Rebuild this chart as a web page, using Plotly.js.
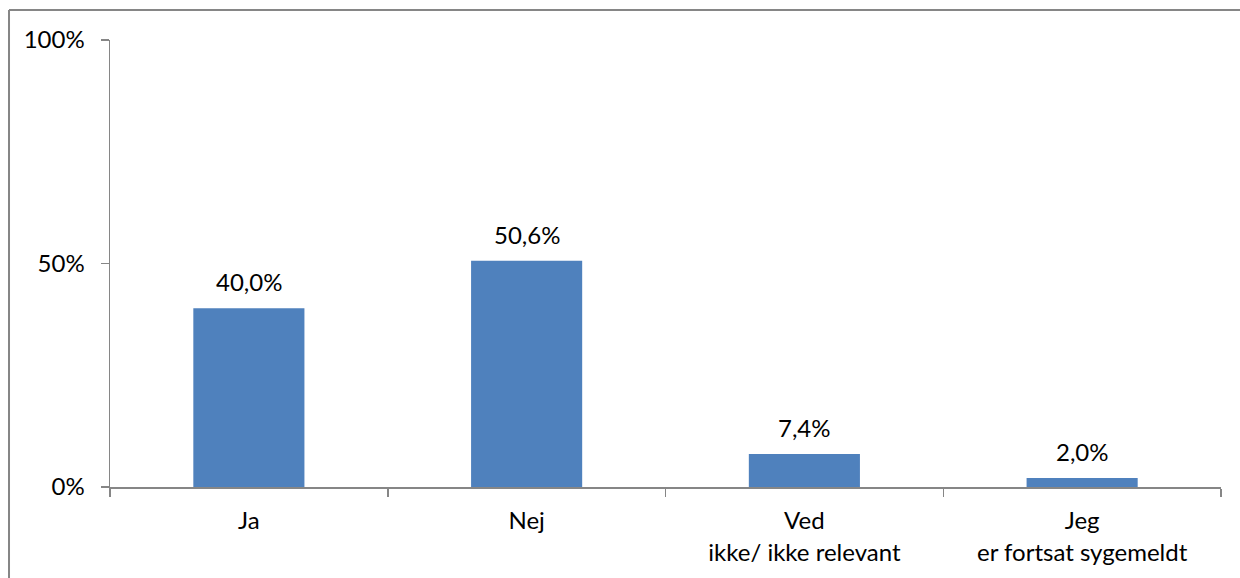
<!DOCTYPE html>
<html>
<head>
<meta charset="utf-8">
<script src="https://cdn.plot.ly/plotly-3.0.1.min.js"></script>
<style>
  html, body { margin: 0; padding: 0; background: #ffffff; }
  #chart { width: 1240px; height: 578px; }
</style>
</head>
<body>
<div id="chart"></div>
<script>
// Survey answers and their shares
const categories = ["Ja", "Nej", "Ved<br>ikke/ ikke relevant", "Jeg<br>er fortsat sygemeldt"];
const shares = [0.400, 0.506, 0.074, 0.020];
const yTickValues = [0, 0.5, 1];
const yTickLabels = ["0%", "50%", "100%"];

const FONT = "Lato, 'Open Sans', 'Liberation Sans', sans-serif";
const AXIS_GREY = "#868686";

// Danish-style percent label (comma decimal separator)
const fmt = v => (v * 100).toFixed(1).replace(".", ",") + "%";

const trace = {
  type: "bar",
  x: categories,
  y: shares,
  marker: { color: "#4F81BD", line: { width: 0 } },
  hoverinfo: "skip"
};

// Value labels above each bar
const valueLabels = categories.map((c, i) => ({
  x: c,
  y: shares[i],
  xref: "x",
  yref: "y",
  text: fmt(shares[i]),
  showarrow: false,
  yanchor: "bottom",
  yshift: 10,
  font: { family: FONT, size: 24, color: "#000000" }
}));

// Outer chart frame (top and left edges visible)
const frame = [
  { type: "line", xref: "paper", yref: "paper", x0: -0.0909, x1: 1.2, y0: 1.0671, y1: 1.0671,
    line: { color: AXIS_GREY, width: 2 } },
  { type: "line", xref: "paper", yref: "paper", x0: -0.0909, x1: -0.0909, y0: 1.0671, y1: -0.3,
    line: { color: AXIS_GREY, width: 2 } }
];

const layout = {
  width: 1240,
  height: 578,
  margin: { l: 110, r: 19, t: 40, b: 91, pad: 0 },
  paper_bgcolor: "#ffffff",
  plot_bgcolor: "#ffffff",
  showlegend: false,
  bargap: 0.6,
  font: { family: FONT, size: 24, color: "#000000" },
  xaxis: {
    type: "category",
    range: [-0.5, 3.5],
    showline: true,
    linecolor: AXIS_GREY,
    linewidth: 1.5,
    showgrid: false,
    zeroline: false,
    ticks: "outside",
    tickson: "boundaries",
    ticklen: 8,
    tickwidth: 1.5,
    tickcolor: AXIS_GREY,
    ticklabelstandoff: 12,
    tickfont: { family: FONT, size: 24, color: "#000000" },
    fixedrange: true
  },
  yaxis: {
    range: [0, 1],
    tickvals: yTickValues,
    ticktext: yTickLabels,
    showline: true,
    linecolor: AXIS_GREY,
    linewidth: 1.5,
    showgrid: false,
    zeroline: false,
    ticks: "outside",
    ticklen: 8,
    tickwidth: 1.5,
    tickcolor: AXIS_GREY,
    ticklabelstandoff: 11,
    tickfont: { family: FONT, size: 24, color: "#000000" },
    fixedrange: true
  },
  annotations: valueLabels,
  shapes: frame
};

Plotly.newPlot("chart", [trace], layout, { displayModeBar: false, staticPlot: true });
</script>
</body>
</html>
